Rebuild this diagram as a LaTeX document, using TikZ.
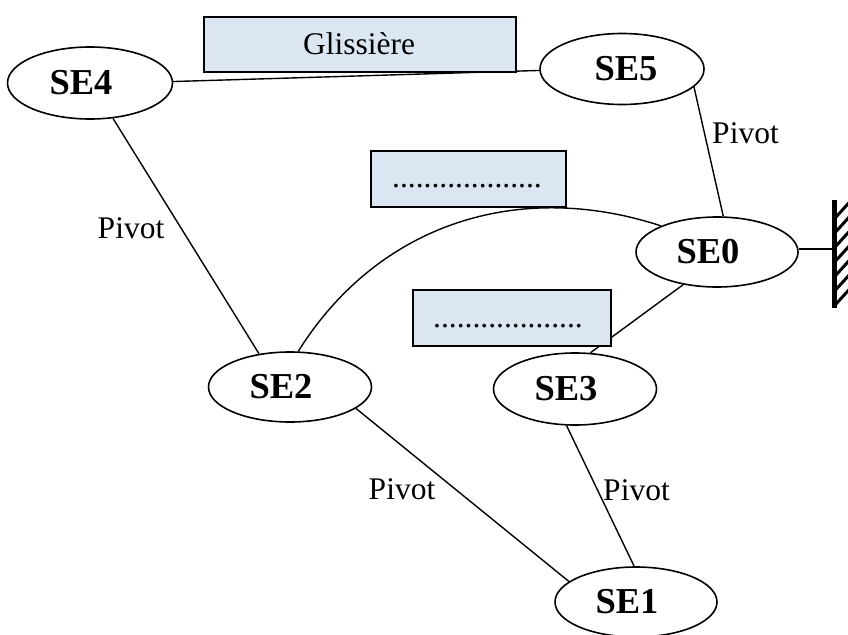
\documentclass[tikz,border=0pt]{standalone}
\usepackage{fontspec}
\setmainfont{Liberation Serif}
\usetikzlibrary{shapes.geometric}
\definecolor{boxfill}{HTML}{DCE6F2}
\begin{document}
\begin{tikzpicture}[x=1pt,y=-1pt,
  se/.style={ellipse, draw, line width=1.6pt, inner sep=0pt, font=\fontsize{36.5}{40}\selectfont\bfseries},
  lbl/.style={inner sep=0pt, font=\fontsize{31.5}{36}\selectfont},
  linkbox/.style={draw, line width=2.2pt, fill=boxfill, inner sep=0pt, anchor=north west},
  link/.style={line width=1.4pt},
  hatch/.style={line width=3pt}]
\useasboundingbox (0,0) rectangle (848,634);

% ellipses
\node[se, minimum width=165pt, minimum height=72pt] (se4) at (90,83) {SE4\kern18pt};
\node[se, minimum width=164pt, minimum height=71pt] (se5) at (622,69) {\kern8pt SE5};
\node[se, minimum width=162pt, minimum height=70pt] (se0) at (717,252) {SE0\kern18pt};
\node[se, minimum width=163pt, minimum height=70pt] (se2) at (290,387) {SE2\kern18pt};
\node[se, minimum width=163pt, minimum height=72pt] (se3) at (575,389) {SE3\kern18pt};
\node[se, minimum width=162pt, minimum height=70pt] (se1) at (636,602) {SE1\kern18pt};

% connectors
\draw[link] (se4.1) -- (se5.181);
\draw[link] (se4.-57) -- (se2.133);
\draw[link] (se5.-14) -- (se0.80);
\draw[link] (se0.-136) -- (se3.67);
\draw[link] (se2.-18) -- (se1.163);
\draw[link] (se3.-103) -- (se1.93);
\draw[link] (se2.77) .. controls (378,224) and (518,179) .. (se0.155);

% ground
\coordinate (wall) at (834.5,249);
\draw[link] (se0.2) -- (se0.2 -| wall);
\draw[line width=5pt] (834.5,200) -- (834.5,308);
\begin{scope}
  \clip (836,195) rectangle (848,312);
  \foreach \yy in {217,231.5,...,305} \draw[hatch] (836,\yy) -- (856,\yy-22);
\end{scope}

% boxes
\node[linkbox, minimum width=312pt, minimum height=55pt] (glbox) at (203,16) {};
\node[lbl, anchor=base] (gltxt) at (359,55) {Glissière};
\node[linkbox, minimum width=195pt, minimum height=56pt] (boxa) at (370,150) {};
\node[lbl, anchor=base] (boxatxt) at (467,187) {...................};
\node[linkbox, minimum width=198pt, minimum height=56pt] (boxb) at (412,289) {};
\node[lbl, anchor=base] (boxbtxt) at (508,327) {...................};

% labels
\node[lbl] (p1) at (131,228) {Pivot};
\node[lbl] (p2) at (745.5,133) {Pivot};
\node[lbl] (p3) at (402,489) {Pivot};
\node[lbl] (p4) at (636.5,490) {Pivot};
\end{tikzpicture}
\end{document}
